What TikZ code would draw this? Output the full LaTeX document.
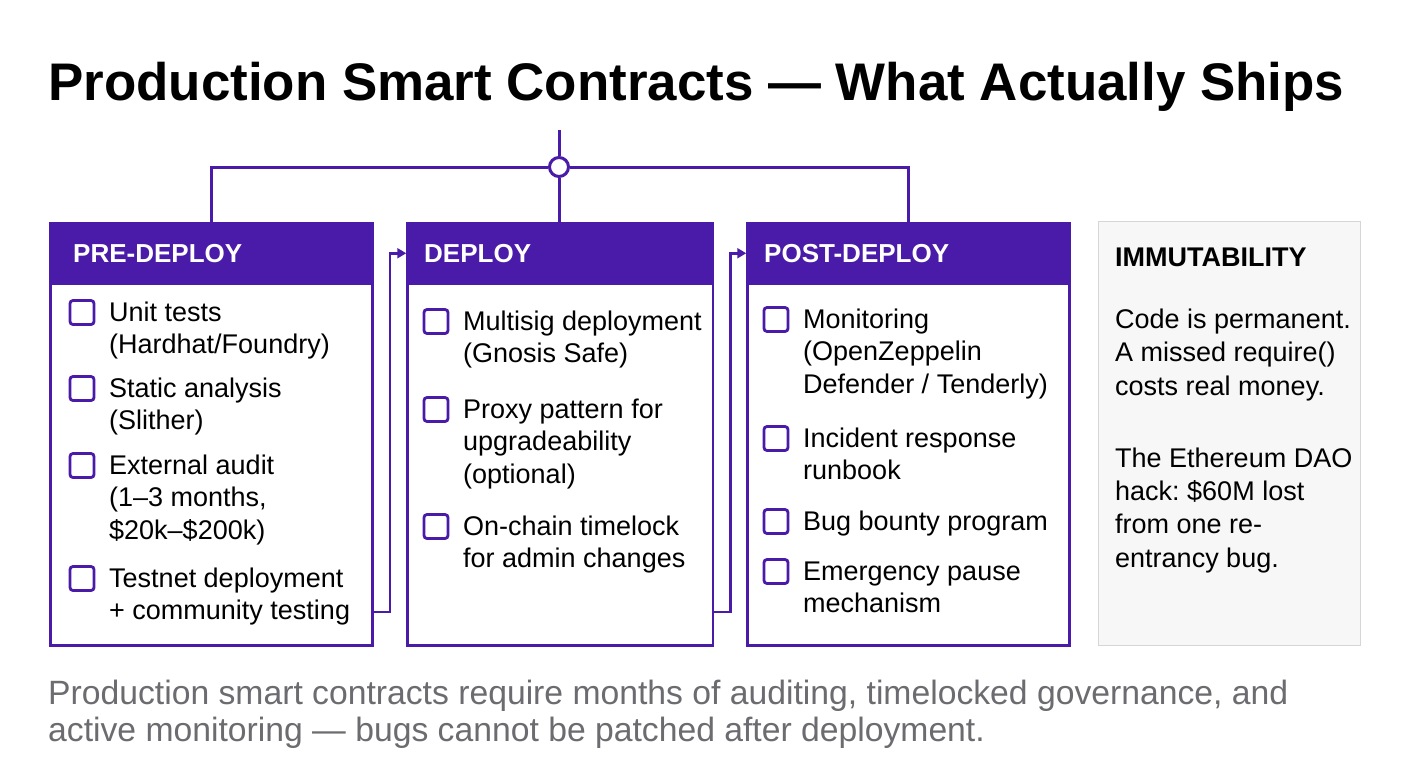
\documentclass[tikz,border=0pt]{standalone}
\usepackage{fontspec}
\setmainfont{Liberation Sans}
\usetikzlibrary{arrows.meta}
\definecolor{purp}{HTML}{4A1AA8}
\definecolor{foot}{HTML}{6B6B70}
\definecolor{panelbg}{HTML}{F7F7F7}
\definecolor{panelbd}{HTML}{D6D6D6}
\frenchspacing
\begin{document}
\begin{tikzpicture}[x=1pt,y=-1pt,
  conn/.style={draw=purp, line width=3pt},
  flow/.style={draw=purp, line width=2.5pt, -{Triangle[length=9pt,width=10pt]}},
  card/.style={draw=purp, line width=2.5pt, fill=white, anchor=north west, minimum width=322pt, minimum height=422pt, inner sep=0},
  hdr/.style={fill=purp, anchor=north west, minimum height=63pt, inner sep=0},
  hdrtxt/.style={anchor=base west, inner sep=0, text=white, font=\fontsize{26}{30}\selectfont\bfseries},
  item/.style={anchor=base west, inner sep=0, align=left, font=\fontsize{27}{32.5}\selectfont},
  chk/.style={draw=purp, line width=2.8pt, rounded corners=3pt, minimum size=24pt, inner sep=0, fill=white},
  note/.style={anchor=base west, inner sep=0, align=left, font=\fontsize{27}{33.2}\selectfont},
]
\useasboundingbox[fill=white] (0,0) rectangle (1408,768);

% title
\node[anchor=base west, inner sep=0, font=\fontsize{52.9}{60}\selectfont\bfseries] (title) at (48,100)
  {Production Smart Contracts — What Actually Ships};

% cards
\node[card] (pre) at (49.25,222.25) {};
\node[card, minimum width=305.5pt] (dep) at (406.25,222.25) {};
\node[card] (post) at (746.25,222.25) {};
\node[hdr, minimum width=322pt] (preh) at (pre.north west) {};
\node[hdr, minimum width=305.5pt] (deph) at (dep.north west) {};
\node[hdr, minimum width=322pt] (posth) at (post.north west) {};
\node[hdrtxt] (pret) at (73,262) {PRE-DEPLOY};
\node[hdrtxt] (dept) at (424,262) {DEPLOY};
\node[hdrtxt] (postt) at (764,262) {POST-DEPLOY};

% immutability panel
\node[draw=panelbd, fill=panelbg, line width=1.2pt, anchor=north west, minimum width=262pt, minimum height=424pt, inner sep=0] (imm) at (1098,221) {};
\node[anchor=base west, inner sep=0, font=\fontsize{27}{32}\selectfont\bfseries] (immt) at (1115,266) {IMMUTABILITY};
\node[note] (imm1) at (1115,395) {Code is permanent.\\A missed require()\\costs real money.};
\node[note] (imm2) at (1115,567) {The Ethereum DAO\\hack: \$60M lost\\from one re-\\entrancy bug.};

% top hub
\node[circle, draw=purp, fill=white, line width=3pt, minimum size=19pt, inner sep=0] (hub) at (559,167) {};
\coordinate (stem) at (559,130);
\draw[conn] (stem) -- (hub.north);
\draw[conn] (hub.west) -| (pre.north);
\draw[conn] (hub.east) -| (post.north);
\draw[conn] (hub.south) -- (hub.south |- dep.north);

% flow arrows
\draw[flow] ([yshift=35pt]pre.south east) -- ++(16,0) |- ([yshift=-31pt]dep.north west);
\draw[flow] ([yshift=35pt]dep.south east) -- ++(16,0) |- ([yshift=-31pt]post.north west);

% PRE-DEPLOY items (anchor = baseline of last line)
\node[chk] (c11) at (82,312.5) {};
\node[item] (t11) at (109,353.5) {Unit tests\\(Hardhat/Foundry)};
\node[chk] (c12) at (82,388.5) {};
\node[item] (t12) at (109,429.5) {Static analysis\\(Slither)};
\node[chk] (c13) at (82,465.5) {};
\node[item] (t13) at (109,539) {External audit\\(1–3 months,\\\$20k–\$200k)};
\node[chk] (c14) at (82,578.5) {};
\node[item] (t14) at (109,619.5) {Testnet deployment\\+ community testing};

% DEPLOY items
\node[chk] (c21) at (436,321.5) {};
\node[item] (t21) at (463,362.5) {Multisig deployment\\(Gnosis Safe)};
\node[chk] (c22) at (436,409.5) {};
\node[item] (t22) at (463,483) {Proxy pattern for\\upgradeability\\(optional)};
\node[chk] (c23) at (436,526.5) {};
\node[item] (t23) at (463,567.5) {On-chain timelock\\for admin changes};

% POST-DEPLOY items
\node[chk] (c31) at (776,319.5) {};
\node[item] (t31) at (803,393) {Monitoring\\(OpenZeppelin\\Defender / Tenderly)};
\node[chk] (c32) at (776,438.5) {};
\node[item] (t32) at (803,479.5) {Incident response\\runbook};
\node[chk] (c33) at (776,521.5) {};
\node[item] (t33) at (803,530) {Bug bounty program};
\node[chk] (c34) at (776,571.5) {};
\node[item] (t34) at (803,612.5) {Emergency pause\\mechanism};

% footer
\node[anchor=base west, inner sep=0, align=left, text=foot, font=\fontsize{33.7}{37}\selectfont] (foot) at (48,741)
  {Production smart contracts require months of auditing, timelocked governance, and\\active monitoring — bugs cannot be patched after deployment.};
\end{tikzpicture}
\end{document}
